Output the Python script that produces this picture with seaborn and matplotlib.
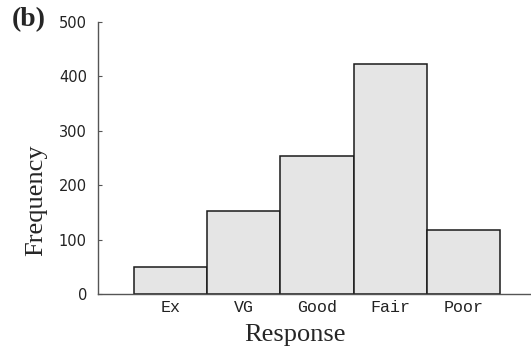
import matplotlib
matplotlib.use("Agg")
import matplotlib.pyplot as plt
import seaborn as sns
import pandas as pd

categories = ["Ex", "VG", "Good", "Fair", "Poor"]
frequency = [50, 152, 254, 423, 118]
y_ticks = [0, 100, 200, 300, 400, 500]

df = pd.DataFrame({"Response": categories, "Frequency": frequency})

sns.set_style("ticks")
fig = plt.figure(figsize=(5.31, 3.56), dpi=100)
ax = fig.add_axes([0.1846, 0.1742, 0.8134, 0.7638])

sns.barplot(data=df, x="Response", y="Frequency", color="#e5e5e5",
            width=1.0, edgecolor="#1a1a1a", linewidth=1.1, saturation=1, ax=ax)

ax.set_xlim(-0.99, 4.91)
ax.set_ylim(0, 500)
ax.set_yticks(y_ticks)
ax.set_yticklabels([str(v) for v in y_ticks], fontfamily="DejaVu Sans", fontsize=10.5, color="#222222")
ax.set_xticks(range(len(categories)))
ax.set_xticklabels(categories, fontfamily="Liberation Mono", fontsize=12, color="#222222")
ax.tick_params(axis="y", direction="in", length=3, width=0.8, pad=8, colors="#555555", labelcolor="#222222")
ax.tick_params(axis="x", length=0, pad=4)

for s in ["top", "right"]:
    ax.spines[s].set_visible(False)
for s in ["left", "bottom"]:
    ax.spines[s].set_color("#555555")
    ax.spines[s].set_linewidth(1.0)

ax.set_xlabel("Response", fontfamily="Liberation Serif", fontsize=19)
ax.set_ylabel("Frequency", fontfamily="Liberation Serif", fontsize=19)
ax.xaxis.set_label_coords(0.456, -0.112)
ax.yaxis.set_label_coords(-0.118, 0.346)

fig.text(0.022, 1 - 7 / 356, "(b)", fontfamily="Liberation Serif", fontweight="bold",
         fontsize=20, va="top", ha="left")

fig.savefig("out.png", dpi=100)
